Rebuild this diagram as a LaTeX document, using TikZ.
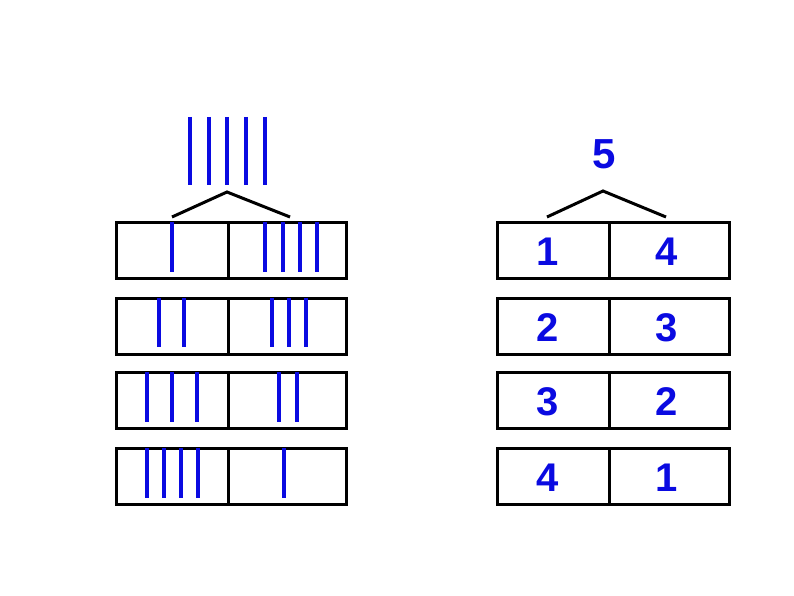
\documentclass[tikz,border=0pt]{standalone}
\usepackage{fontspec}
\setmainfont{Liberation Sans}
\begin{document}
\begin{tikzpicture}[x=1pt,y=-1pt]
\definecolor{tblue}{RGB}{10,10,225}
\tikzset{
  cell/.style={draw=black,line width=3pt,rectangle,inner sep=0pt,minimum height=56pt},
  cellA/.style={cell,minimum width=112pt},
  cellB/.style={cell,minimum width=118pt},
  cellR/.style={cell,minimum width=120pt},
  digit/.style={font=\bfseries\fontsize{40}{40}\selectfont,text=tblue,inner sep=0pt},
  tally/.style={draw=tblue,line width=4.5pt},
  roof/.style={draw=black,line width=3pt},
}
\useasboundingbox (0,0) rectangle (794,596);
\fill[white] (0,0) rectangle (794,596);
% left cells
\foreach \i/\yc in {1/250,2/326,3/400,4/476}{
  \node[cellA] (L\i a) at (172,\yc) {};
  \node[cellB] (L\i b) at (287,\yc) {};
  \node[cellA] (R\i a) at (553,\yc) {};
  \node[cellR] (R\i b) at (669,\yc) {};
}
% digits
\node[digit] (d1a) at (548,252) {1};
\node[digit] (d1b) at (667,252) {4};
\node[digit] (d2a) at (548,328) {2};
\node[digit] (d2b) at (667,328) {3};
\node[digit] (d3a) at (548,402) {3};
\node[digit] (d3b) at (667,402) {2};
\node[digit] (d4a) at (548,478) {4};
\node[digit] (d4b) at (667,478) {1};
% top tallies
\foreach \x in {190,209,227,246,265}{
  \draw[tally] (\x,117) -- (\x,185);
}
% roofs
\coordinate (LapexL) at (172,217);
\coordinate (Lapex) at (227,192);
\coordinate (LapexR) at (290,217);
\draw[roof] (LapexL) -- (Lapex) -- (LapexR);
\node[digit,font=\bfseries\fontsize{42}{42}\selectfont] (five) at (604,154) {5};
\coordinate (RapexL) at (547,217);
\coordinate (Rapex) at (603,191);
\coordinate (RapexR) at (666,217);
\draw[roof] (RapexL) -- (Rapex) -- (RapexR);
% row tallies
\foreach \x in {172}{\draw[tally] (\x,222) -- (\x,272);}
\foreach \x in {265,283,300,317}{\draw[tally] (\x,222) -- (\x,272);}
\foreach \x in {159,184}{\draw[tally] (\x,298) -- (\x,347);}
\foreach \x in {272,289,306}{\draw[tally] (\x,298) -- (\x,347);}
\foreach \x in {147,172,197}{\draw[tally] (\x,372) -- (\x,422);}
\foreach \x in {279,297}{\draw[tally] (\x,372) -- (\x,422);}
\foreach \x in {147,164,181,198}{\draw[tally] (\x,448) -- (\x,498);}
\foreach \x in {284}{\draw[tally] (\x,448) -- (\x,498);}
\end{tikzpicture}
\end{document}
